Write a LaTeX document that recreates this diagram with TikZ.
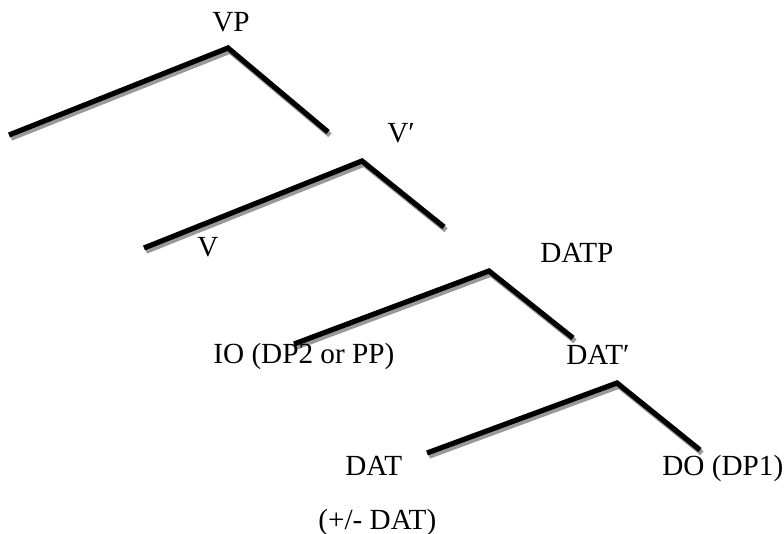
\documentclass[tikz,border=0pt]{standalone}
\usepackage{fontspec}
\setmainfont{Liberation Serif}
\begin{document}
\begin{tikzpicture}[x=0.5pt,y=-0.5pt,
    branch/.style={line width=2.6pt,line join=miter,line cap=butt},
    shadowbranch/.style={branch,black!40,transform canvas={shift={(1pt,-1.6pt)}}},
    lbl/.style={font=\fontsize{14.6}{17}\selectfont,inner sep=0pt,anchor=base west}]
\useasboundingbox (0,0) rectangle (784,534);

% branching points and arm ends
\coordinate (vp) at (228,48);
\coordinate (vp-l) at (9,135);
\coordinate (vp-r) at (328,132);

\coordinate (vbar) at (362,161);
\coordinate (vbar-l) at (144,248);
\coordinate (vbar-r) at (444,227);

\coordinate (datp) at (489,271);
\coordinate (datp-l) at (294,344);
\coordinate (datp-r) at (573,338);

\coordinate (datbar) at (617,383);
\coordinate (datbar-l) at (427,453);
\coordinate (datbar-r) at (700,450);

\foreach \t in {vp,vbar,datp,datbar}{
    \draw[shadowbranch] (\t-l) -- (\t) -- (\t-r);
    \draw[branch] (\t-l) -- (\t) -- (\t-r);
}

% labels
\node[lbl] (vp-lbl) at (212,32) {VP};
\node[lbl] (vbar-lbl) at (387,143) {V′};
\node[lbl] (v-lbl) at (197,257) {V};
\node[lbl] (datp-lbl) at (540,263) {DATP};
\node[lbl] (io-lbl) at (213,364) {IO (DP2 or PP)};
\node[lbl] (datbar-lbl) at (566,365) {DAT′};
\node[lbl] (dat-lbl) at (345,476) {DAT};
\node[lbl] (do-lbl) at (662,476) {DO (DP1)};
\node[lbl] (feat-lbl) at (318,530) {(+/- DAT)};

\end{tikzpicture}
\end{document}
